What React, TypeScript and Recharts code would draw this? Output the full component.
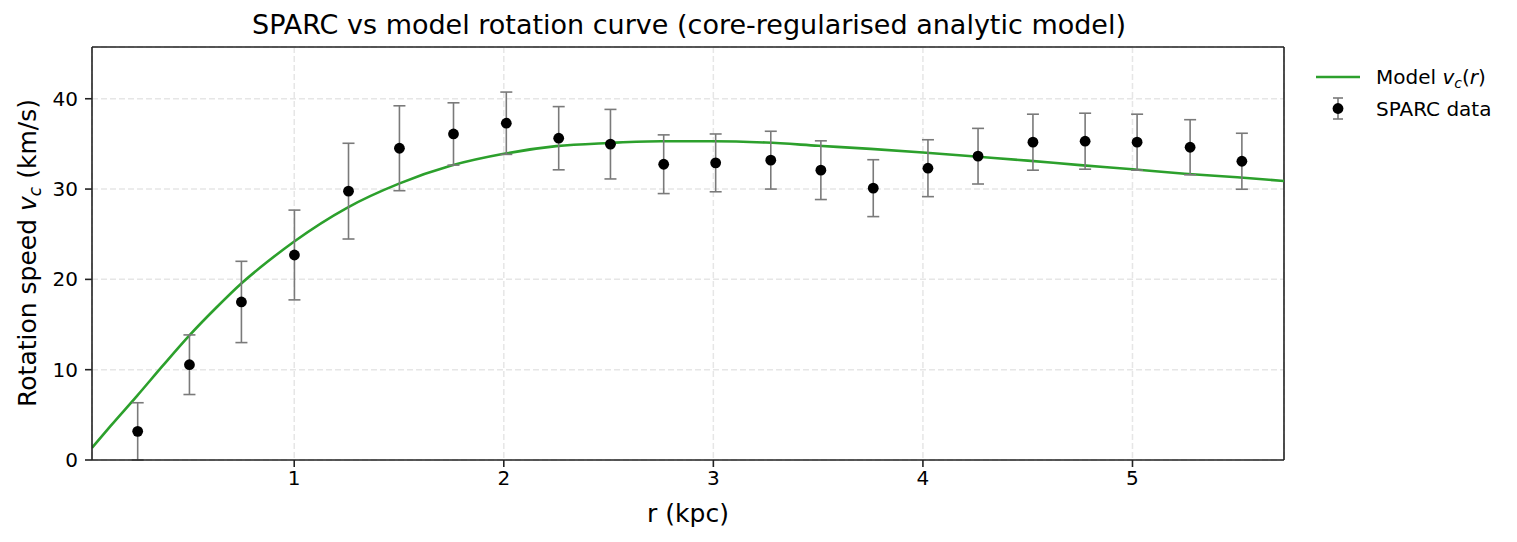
import React from "react";
import {
  ComposedChart,
  Line,
  Scatter,
  ErrorBar,
  XAxis,
  YAxis,
  CartesianGrid,
  ReferenceLine,
} from "recharts";

// SPARC data points (radius in kpc, speed in km/s, 1-sigma error)
const sparcR = [0.253, 0.5, 0.748, 1.001, 1.259, 1.502, 1.76, 2.012, 2.262, 2.509, 2.763, 3.011, 3.274, 3.513, 3.763, 4.024, 4.263, 4.525, 4.774, 5.022, 5.275, 5.522];
const sparcV = [3.17, 10.55, 17.5, 22.7, 29.77, 34.52, 36.1, 37.29, 35.63, 34.97, 32.75, 32.9, 33.2, 32.09, 30.1, 32.31, 33.64, 35.19, 35.3, 35.19, 34.63, 33.08];
const sparcErr = [3.17, 3.3, 4.5, 4.97, 5.3, 4.7, 3.45, 3.45, 3.5, 3.85, 3.25, 3.2, 3.2, 3.25, 3.15, 3.15, 3.08, 3.1, 3.1, 3.1, 3.05, 3.1];

// model curve
const modelR = [0.035, 0.125, 0.25, 0.375, 0.5, 0.625, 0.75, 0.875, 1.0, 1.25, 1.5, 1.75, 2.0, 2.25, 2.5, 2.75, 3.0, 3.25, 3.5, 3.75, 4.0, 4.25, 4.5, 4.75, 5.0, 5.25, 5.5, 5.723];
const modelV = [1.35, 3.8, 7.1, 10.5, 13.8, 16.8, 19.6, 22.0, 24.2, 27.9, 30.6, 32.6, 33.9, 34.75, 35.1, 35.3, 35.3, 35.15, 34.8, 34.45, 34.05, 33.6, 33.15, 32.65, 32.2, 31.7, 31.3, 30.9];

const xTicks = [1, 2, 3, 4, 5];
const yTicks = [0, 10, 20, 30, 40];
const X_MIN = 0.035;
const X_MAX = 5.723;
const Y_MAX = 45.73;

const W = 1517;
const H = 542;
const FONT = '"DejaVu Sans", sans-serif';
const GREEN = "#2ca02c";

const points = sparcR.map((r, i) => ({ r, v: sparcV[i], err: sparcErr[i] }));
const model = modelR.map((r, i) => ({ r, v: modelV[i] }));

const Dot = (props: any) => {
  if (props.cx == null || props.cy == null) return null;
  return <circle cx={props.cx} cy={props.cy} r={5.4} fill="#000" />;
};

export default function App() {
  return (
    <div style={{ position: "absolute", left: 0, top: 0, width: W, height: H, background: "#fff", fontFamily: FONT }}>
      <ComposedChart width={W} height={H} margin={{ top: 47, right: 233, bottom: 52, left: 0 }}>
        <CartesianGrid stroke="#e6e6e6" strokeWidth={1.5} strokeDasharray="6 3" />
        <XAxis
          dataKey="r"
          type="number"
          domain={[X_MIN, X_MAX]}
          allowDataOverflow
          ticks={xTicks}
          height={30}
          tickSize={7}
          tickMargin={4}
          stroke="#222"
          strokeWidth={1.6}
          tick={{ fill: "#000", fontSize: 20, fontFamily: FONT }}
        />
        <YAxis
          dataKey="v"
          type="number"
          domain={[0, Y_MAX]}
          allowDataOverflow
          ticks={yTicks}
          width={92}
          tickSize={7}
          tickMargin={7}
          stroke="#222"
          strokeWidth={1.6}
          tick={{ fill: "#000", fontSize: 20, fontFamily: FONT }}
        />
        <ReferenceLine y={Y_MAX} stroke="#222" strokeWidth={1.6} />
        <ReferenceLine x={X_MAX} stroke="#222" strokeWidth={1.6} />
        <Line
          data={model}
          dataKey="v"
          type="monotone"
          stroke={GREEN}
          strokeWidth={2.6}
          dot={false}
          activeDot={false}
          isAnimationActive={false}
        />
        <Scatter data={points} dataKey="v" shape={<Dot />} isAnimationActive={false}>
          <ErrorBar dataKey="err" direction="y" width={6} stroke="#7a7a7a" strokeWidth={1.6} isAnimationActive={false} />
        </Scatter>
      </ComposedChart>

      {/* title, axis labels, legend */}
      <svg width={W} height={H} style={{ position: "absolute", left: 0, top: 0, pointerEvents: "none" }} fontFamily={FONT}>
        <text x={689} y={34} textAnchor="middle" fontSize={27} fill="#000">
          SPARC vs model rotation curve (core-regularised analytic model)
        </text>
        <text x={688} y={522} textAnchor="middle" fontSize={25} fill="#000">
          r (kpc)
        </text>
        <text transform="translate(36,253) rotate(-90)" textAnchor="middle" fontSize={25} fill="#000">
          Rotation speed <tspan fontStyle="italic">v</tspan>
          <tspan fontSize={17} dy={5} fontStyle="italic">c</tspan>
          <tspan dy={-5}> (km/s)</tspan>
        </text>

        <line x1={1316} y1={77} x2={1360} y2={77} stroke={GREEN} strokeWidth={2.6} />
        <text x={1376} y={84} fontSize={20} fill="#000">
          Model <tspan fontStyle="italic">v</tspan>
          <tspan fontSize={14} dy={4} fontStyle="italic">c</tspan>
          <tspan dy={-4}>(</tspan>
          <tspan fontStyle="italic">r</tspan>)
        </text>

        <line x1={1338} y1={98} x2={1338} y2={119} stroke="#7a7a7a" strokeWidth={1.6} />
        <line x1={1333} y1={98} x2={1343} y2={98} stroke="#7a7a7a" strokeWidth={1.6} />
        <line x1={1333} y1={119} x2={1343} y2={119} stroke="#7a7a7a" strokeWidth={1.6} />
        <circle cx={1338} cy={108.5} r={5.4} fill="#000" />
        <text x={1376} y={116} fontSize={20} fill="#000">
          SPARC data
        </text>
      </svg>
    </div>
  );
}
